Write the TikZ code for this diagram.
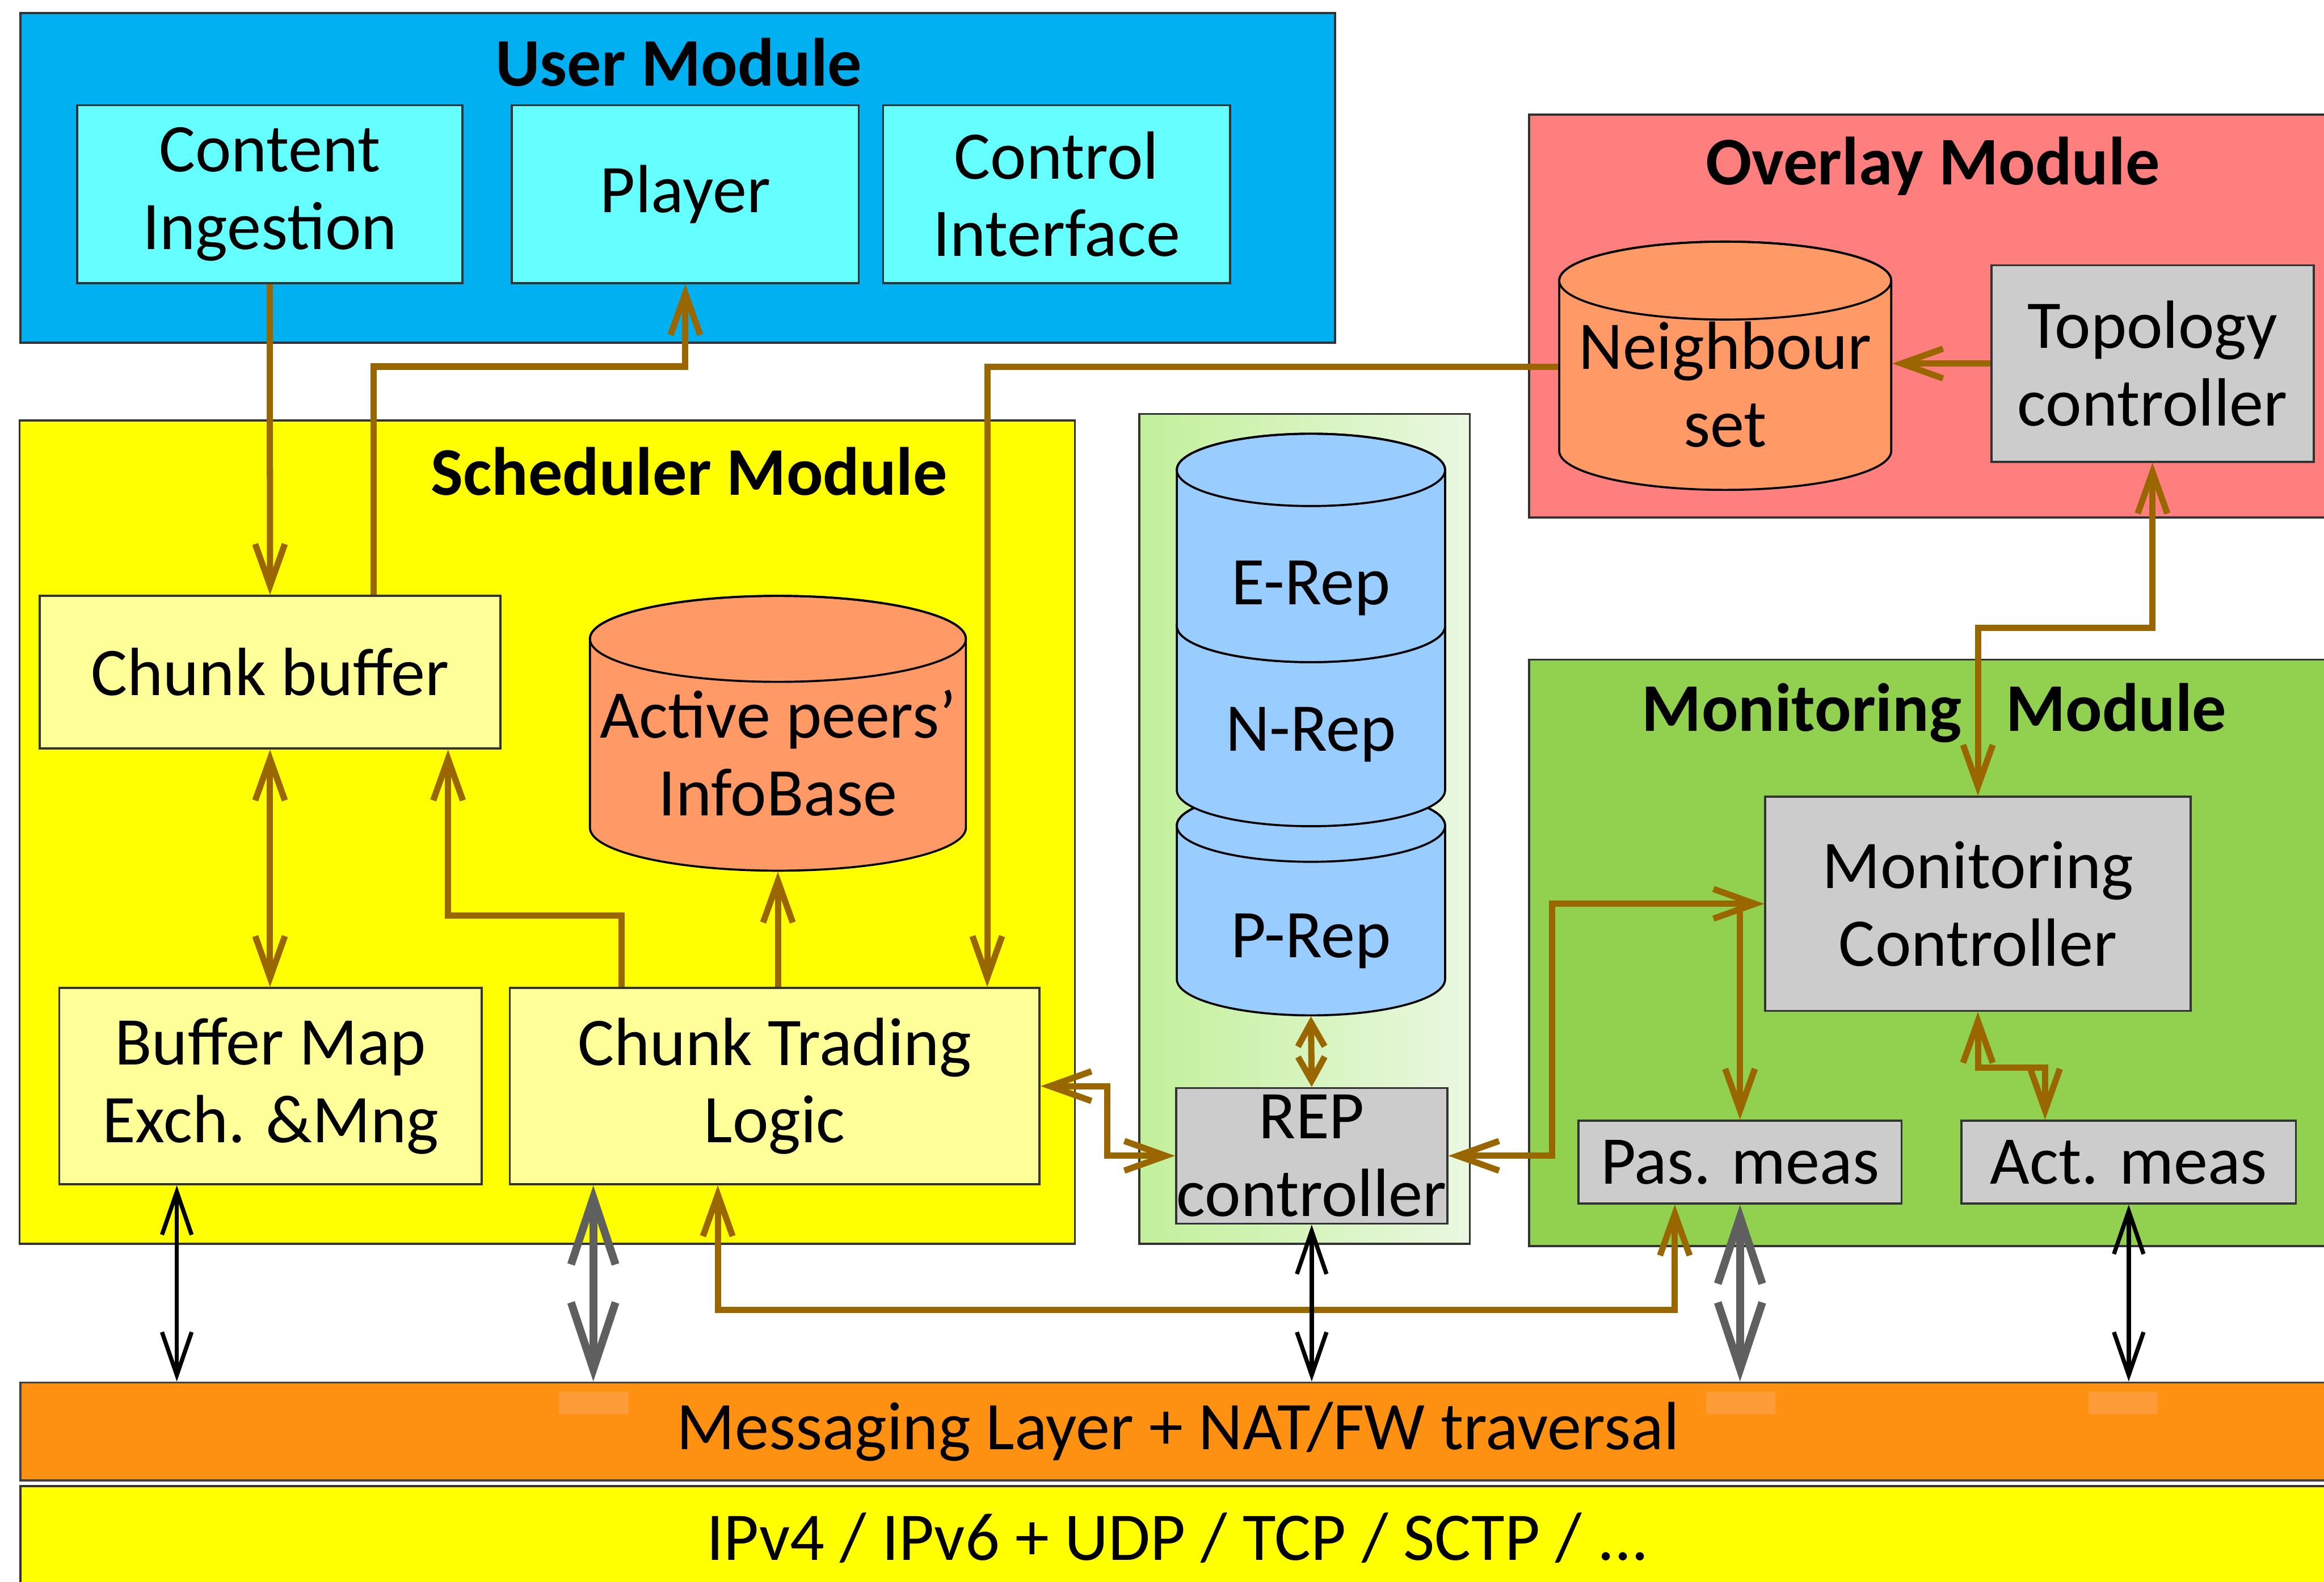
\documentclass[tikz,border=0pt]{standalone}
\usepackage{fontspec}
\setmainfont{Carlito}
\usepackage{tikz}
\usetikzlibrary{positioning,calc}
\usetikzlibrary{arrows.meta,shapes}
\definecolor{usercol}{HTML}{00B0F0}
\definecolor{userbox}{HTML}{66FFFF}
\definecolor{schedcol}{HTML}{FFFF00}
\definecolor{schedbox}{HTML}{FFFF99}
\definecolor{infocol}{HTML}{FF9966}
\definecolor{overcol}{HTML}{FF7F7F}
\definecolor{ctrlcol}{HTML}{CCCCCC}
\definecolor{moncol}{HTML}{92D050}
\definecolor{repleft}{HTML}{C2F09A}
\definecolor{repright}{HTML}{EAF8E0}
\definecolor{repcol}{HTML}{99CCFF}
\definecolor{msgcol}{HTML}{FF9112}
\definecolor{msgspot}{HTML}{FF9C3A}
\definecolor{linkbrown}{HTML}{996600}
\definecolor{linkgray}{HTML}{5F5F5F}
\tikzstyle{module} = [rectangle,draw=black!80,thin,anchor=north west,inner sep=0pt]
\tikzstyle{layer} = [module,font=\fontsize{13.1}{14.9}\selectfont]
\tikzstyle{modtitle} = [inner sep=0pt,font=\fontsize{13.1}{14.9}\selectfont\bfseries]
\tikzstyle{block} = [rectangle,draw=black!80,thin,align=center,inner sep=0pt,font=\fontsize{13.1}{14.9}\selectfont]
\tikzstyle{drumtext} = [align=center,inner sep=0pt,font=\fontsize{13.1}{14.9}\selectfont]
\tikzstyle{line} = [draw=linkbrown,line width=1.2pt,>={Straight Barb[length=2.8mm,width=2mm]}]
\tikzstyle{shortline} = [line,>={Straight Barb[length=1.6mm,width=1.8mm]}]
\tikzstyle{wire} = [draw=black,line width=0.8pt,>={Straight Barb[length=2.9mm,width=2mm]}]
\tikzstyle{pipe} = [draw=linkgray,line width=1.5pt,>={Straight Barb[length=4.5mm,width=3mm]}]
% cylinder: centre x, x radius, top y, bottom y, y radius, fill
\newcommand\drum[6]{%
  \filldraw[fill=#6,draw=black,thin] (#1-#2,#3) -- (#1-#2,#4)
    arc[start angle=180,end angle=0,x radius=#2,y radius=#5]
    -- (#1+#2,#3) arc[start angle=0,end angle=-180,x radius=#2,y radius=#5] -- cycle;
  \draw[thin] (#1,#3) ellipse[x radius=#2,y radius=#5];}

\begin{document}
\begin{tikzpicture}[x=0.1mm,y=-0.1mm]
    \clip (0,0) rectangle (1568,1067);
    % user module
    \node[module,fill=usercol,minimum width=88.7mm,minimum height=22.25mm] (user) at (13,8) {};
    \node[modtitle] (usertitle) at (458,42) {User Module};
    \node[block,fill=userbox,minimum width=26mm,minimum height=12mm] (ci) at (182,131) {Content\\Ingestion};
    \node[block,fill=userbox,minimum width=23.4mm,minimum height=12mm,right=3.2mm of ci] (player) {Player};
    \node[block,fill=userbox,minimum width=23.4mm,minimum height=12mm,right=1.5mm of player] (cif) {Control\\Interface};
    % scheduler module
    \node[module,fill=schedcol,minimum width=71.2mm,minimum height=55.55mm] (sched) at (12.5,283) {};
    \node[modtitle] (schedtitle) at (465,318) {Scheduler Module};
    \node[block,fill=schedbox,minimum width=31.08mm,minimum height=10.3mm] (cb) at (182.2,453.5) {Chunk buffer};
    \drum{524.85}{126.85}{431}{558.4}{29}{infocol}
    \node[drumtext,minimum width=25.37mm,minimum height=15.88mm] (apib) at (524.85,508) {Active peers'\\InfoBase};
    \node[block,fill=schedbox,minimum width=28.5mm,minimum height=13.25mm] (bm) at (182.5,732.75) {Buffer Map\\Exch. \&Mng};
    \node[block,fill=schedbox,minimum width=35.74mm,minimum height=13.25mm] (ctl) at (522.7,732.75) {Chunk Trading\\Logic};
    % repositories
    \node[module,left color=repleft,right color=repright,minimum width=22.3mm,minimum height=56mm] (repcol) at (768,278.5) {};
    \drum{884.5}{90.5}{557}{660.6}{24.4}{repcol}
    \drum{884.5}{90.5}{422.3}{533}{24.4}{repcol}
    \drum{884.5}{90.5}{317}{422.3}{24.4}{repcol}
    \node[drumtext] (erep) at (884.5,397) {E-Rep};
    \node[drumtext] (nrep) at (884.5,495.5) {N-Rep};
    \node[drumtext,minimum height=10mm] (prep) at (884.5,635) {P-Rep};
    \node[block,fill=ctrlcol,minimum width=18.29mm,minimum height=9.15mm,label={[drumtext]center:REP\\controller}] (repc) at (885,779.75) {};
    % overlay module
    \node[module,fill=overcol,minimum width=54.4mm,minimum height=27.2mm] (overlay) at (1031,76.5) {};
    \node[modtitle] (overtitle) at (1304,112) {Overlay Module};
    \drum{1164}{112}{189.3}{304.2}{26.3}{infocol}
    \node[drumtext,minimum width=22.4mm,minimum height=14.2mm] (nset) at (1164,259.5) {Neighbour\\set};
    \node[block,fill=ctrlcol,minimum width=21.74mm,minimum height=13.25mm] (topo) at (1452.3,245.25) {Topology\\controller};
    % monitoring module
    \node[module,fill=moncol,minimum width=54.4mm,minimum height=39.57mm] (mon) at (1031,444.3) {};
    \node[modtitle] (montitle) at (1305,481) {Monitoring\hspace{3mm}Module};
    \node[block,fill=ctrlcol,minimum width=28.7mm,minimum height=14.45mm] (mc) at (1334.5,609.75) {Monitoring\\Controller};
    \node[block,fill=ctrlcol,minimum width=21.8mm,minimum height=5.6mm] (pas) at (1174,784) {Pas. meas};
    \node[block,fill=ctrlcol,minimum width=22.55mm,minimum height=5.6mm] (act) at (1436.25,784) {Act. meas};
    % layers
    \node[layer,fill=msgcol,draw=black!75,minimum width=156.2mm,minimum height=6.6mm] (msg) at (13,932) {Messaging Layer + NAT/FW traversal};
    \node[layer,fill=schedcol,minimum width=156.2mm,minimum height=7mm] (ip) at (13,1002) {IPv4 / IPv6 + UDP / TCP / SCTP / ...};
    \foreach \x in {400.5,1174.5,1432.5}
        \fill[msgspot] (\x-23.5,939) rectangle (\x+23.5,954);
    % brown links
    \draw[line,->] (ci.south) -- (cb.north);
    \draw[line,->] ($(cb.north)+(70,0)$) -- ++(0,-154) -| (player.south);
    \draw[line,<->] (cb.south) -- (cb.south |- bm.north);
    \draw[line,->] ($(ctl.north west)+(76,0)$) -- ++(0,-48) -| ($(cb.south east)+(-36,0)$);
    \draw[line,->] (ctl.north -| apib.south) -- (apib.south);
    \draw[line,->] (topo.west) -- (topo.west -| nset.east);
    \draw[line,->] (nset.west |- 0,247.6) -| ($(ctl.north east)+(-36,0)$);
    \draw[line,<->] (mc.north) -- ++(0,-113.2) -| (topo.south);
    \draw[line,<->] (repc.east) -- ++(70,0) |- (mc.west);
    \draw[line,->] (pas.north |- mc.west) -- (pas.north);
    \draw[line,<->] (mc.south) -- ++(0,37.4) -| ($(act.north west)+(57,0)$);
    \draw[line,<->] (ctl.east) -- ++(45,0) |- (repc.west);
    \draw[shortline,<->] (prep.south) -- (repc.north);
    \draw[line,<->] ($(ctl.south west)+(141,0)$) -- ++(0,84) -| ($(pas.south)+(-44,0)$);
    % links to the messaging layer
    \coordinate (bmport) at ($(bm.south west)+(80,0)$);
    \coordinate (ctlport) at ($(ctl.south west)+(57,0)$);
    \draw[wire,<->] (bmport) -- (bmport |- msg.north);
    \draw[pipe,<->] (ctlport) -- (ctlport |- msg.north);
    \draw[wire,<->] (repc.south) -- (repc.south |- msg.north);
    \draw[pipe,<->] (pas.south) -- (pas.south |- msg.north);
    \draw[wire,<->] (act.south) -- (act.south |- msg.north);
\end{tikzpicture}
\end{document}
